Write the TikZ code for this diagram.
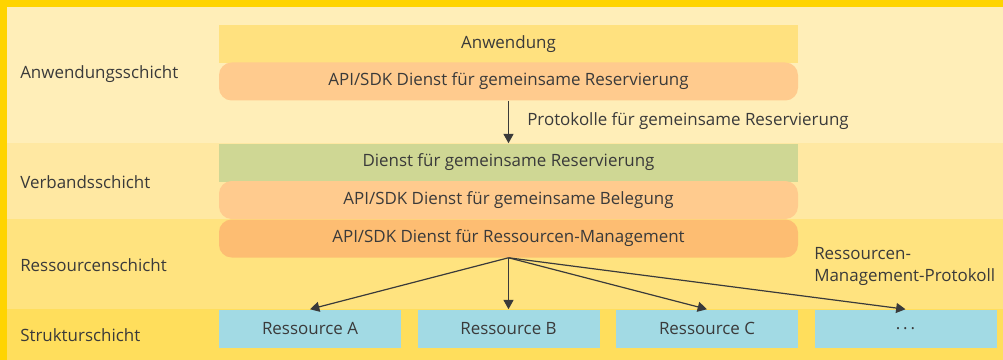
\documentclass[tikz,border=0pt]{standalone}
\usepackage{fontspec}
\setmainfont{Open Sans}
\usetikzlibrary{arrows.meta}

\definecolor{frame}{HTML}{FFD400}
\definecolor{bandA}{HTML}{FFEEB8}
\definecolor{bandB}{HTML}{FFE8A2}
\definecolor{bandC}{HTML}{FFE37F}
\definecolor{bandD}{HTML}{FFDE5C}
\definecolor{appyellow}{HTML}{FFE17F}
\definecolor{apiorange}{HTML}{FFCB8E}
\definecolor{rmorange}{HTML}{FDBD72}
\definecolor{dienstgreen}{HTML}{CFD794}
\definecolor{resblue}{HTML}{A2DAE4}
\definecolor{txt}{HTML}{3A3A3A}

\tikzset{
  layerlabel/.style={anchor=west,inner sep=0pt,text=txt,font=\fontsize{12.7}{16.5}\selectfont},
  plainbox/.style={minimum width=434.25pt,minimum height=28.5pt,inner sep=0pt,text=txt,font=\fontsize{12.7}{16.5}\selectfont},
  roundbox/.style={plainbox,rounded corners=9.5pt},
  resbox/.style={plainbox,fill=resblue,minimum width=136.5pt},
  protarrow/.style={draw=txt,line width=0.9pt,-{Triangle[length=7pt,width=7.5pt]}},
}

\begin{document}
\begin{tikzpicture}[x=0.75pt,y=-0.75pt]
  \useasboundingbox (0,0) rectangle (1003,360);
  % layer bands
  \fill[frame] (0,0) rectangle (1003,360);
  \fill[bandA] (7,7) rectangle (1003,143);
  \fill[bandB] (7,143) rectangle (1003,219);
  \fill[bandC] (7,219) rectangle (1003,309);
  \fill[bandD] (7,309) rectangle (1003,360);

  \node[layerlabel] (lA) at (20,74) {Anwendungsschicht};
  \node[layerlabel] (lB) at (20,182) {Verbandsschicht};
  \node[layerlabel] (lC) at (20,265) {Ressourcenschicht};
  \node[layerlabel] (lD) at (20,335) {Strukturschicht};

  % application layer
  \node[plainbox,fill=appyellow] (anw) at (508.5,44) {Anwendung};
  \node[roundbox,fill=apiorange] (resv) at (508.5,81.5) {API/SDK Dienst für gemeinsame Reservierung};

  % collective layer
  \node[plainbox,fill=dienstgreen] (dienst) at (508.5,162.5) {Dienst für gemeinsame Reservierung};
  \node[roundbox,fill=apiorange] (beleg) at (508.5,200) {API/SDK Dienst für gemeinsame Belegung};

  % resource layer
  \node[roundbox,fill=rmorange] (rm) at (508.5,238.5) {API/SDK Dienst für Ressourcen-Management};

  % fabric layer
  \node[resbox] (resA) at (310,328.5) {Ressource A};
  \node[resbox] (resB) at (508.5,328.5) {Ressource B};
  \node[resbox] (resC) at (707,328.5) {Ressource C};
  \node[resbox] (resD) at (905.5,328.5) {.\,.\,.};

  \draw[protarrow] (resv.south) -- (dienst.north);
  \node[layerlabel] (protA) at (527,121) {Protokolle für gemeinsame Reservierung};

  \foreach \r in {resA,resB,resC,resD}
    \draw[protarrow] (rm.south) -- (\r.north);
  \node[layerlabel,anchor=north west,align=left] (protB) at (814,247) {Ressourcen-\\Management-Protokoll};
\end{tikzpicture}
\end{document}
